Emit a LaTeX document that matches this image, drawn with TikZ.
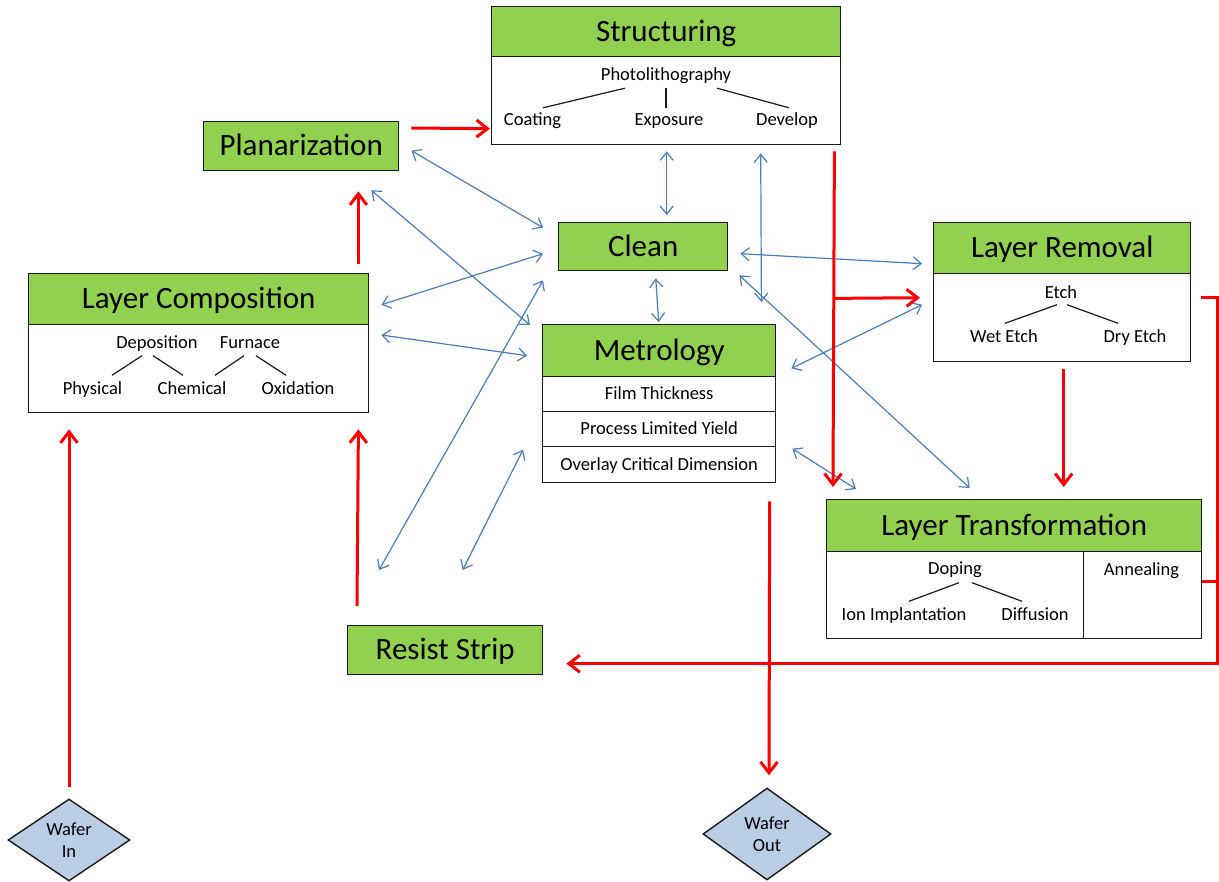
\documentclass[tikz,border=0pt]{standalone}
\usepackage{fontspec}
\setmainfont{Carlito}
\usetikzlibrary{arrows.meta,calc,shapes.geometric}
\definecolor{hdrgreen}{HTML}{92D050}
\definecolor{linkblue}{HTML}{4A7EBB}
\definecolor{flowred}{HTML}{FF0000}
\definecolor{diamondblue}{HTML}{B9CDE5}
\definecolor{edge}{HTML}{1A1A1A}
\newcommand{\titlesize}{\fontsize{31}{37}\selectfont}
\newcommand{\itemsize}{\fontsize{18.5}{22}\selectfont}
\begin{document}
\begin{tikzpicture}[x=1pt,y=-1pt,
  box/.style={draw=edge, line width=1.4pt, inner sep=0pt, anchor=north west},
  header/.style={box, fill=hdrgreen, font=\titlesize, text height=21pt, text depth=2pt},
  panel/.style={box, fill=white},
  row/.style={box, fill=white, font=\itemsize, text height=14pt, text depth=3pt},
  item/.style={inner xsep=0pt, inner ysep=4pt, text height=15pt, text depth=2pt, font=\itemsize},
  branch/.style={draw=edge, line width=1.2pt},
  link/.style={draw=linkblue, line width=1.2pt,
    {Straight Barb[length=8pt,width=13pt]}-{Straight Barb[length=8pt,width=13pt]}},
  flow/.style={draw=flowred, line width=3pt},
  flowarrow/.style={flow, -{Straight Barb[length=11pt,width=17pt]}},
  terminal/.style={diamond, aspect=1.5, draw=edge, line width=1.4pt, fill=diamondblue,
    inner sep=0pt, font=\itemsize, align=center}
]
\useasboundingbox (0,0) rectangle (1219,882);

% ---- Structuring ----
\node[header, minimum width=349pt, minimum height=50pt] (structH) at (491,6) {Structuring};
\node[panel, minimum width=349pt, minimum height=88pt] (structB) at (491,56) {};
\node[item] (photo) at (666,74) {Photolithography};
\node[item] (coat) at (532.5,119) {Coating};
\node[item] (expo) at (669,119) {Exposure};
\node[item] (devel) at (787,119) {Develop};
\draw[branch] ($(photo.south)+(-41,1.5)$) -- ($(coat.north)+(10.5,1.5)$);
\draw[branch] ($(photo.south)+(0,1.5)$) -- ($(expo.north)+(-3,1.5)$);
\draw[branch] ($(photo.south)+(51,1.5)$) -- ($(devel.north)+(2,1.5)$);

% ---- Planarization, Clean, Resist Strip ----
\node[header, minimum width=195pt, minimum height=49pt] (plan) at (203,121) {Planarization};
\node[header, minimum width=169pt, minimum height=48pt] (clean) at (558,222) {Clean};
\node[header, minimum width=195pt, minimum height=49pt] (rs) at (347,625) {Resist Strip};

% ---- Layer Removal ----
\node[header, minimum width=257pt, minimum height=51pt] (lrH) at (933,222) {Layer Removal};
\node[panel, minimum width=257pt, minimum height=88pt] (lrB) at (933,273) {};
\node[item] (etch) at (1061,292) {Etch};
\node[item] (wet) at (1004,336) {Wet Etch};
\node[item] (dry) at (1135,336) {Dry Etch};
\draw[branch] ($(etch.south)+(-4,0)$) -- ($(wet.north)+(1,0)$);
\draw[branch] ($(etch.south)+(6,0)$) -- ($(dry.north)+(-17,0)$);

% ---- Layer Composition ----
\node[header, minimum width=340pt, minimum height=51pt] (lcH) at (28,273) {Layer Composition};
\node[panel, minimum width=340pt, minimum height=88pt] (lcB) at (28,324) {};
\node[item] (depo) at (157,342) {Deposition};
\node[item] (furn) at (250,342) {Furnace};
\node[item] (phys) at (92.5,388) {Physical};
\node[item] (chem) at (192,388) {Chemical};
\node[item] (oxid) at (298,388) {Oxidation};
\draw[branch] ($(depo.south)+(-15,1)$) -- ($(phys.north)+(19.5,0)$);
\draw[branch] ($(depo.south)+(-4,1)$) -- ($(chem.north)+(-9,0)$);
\draw[branch] ($(furn.south)+(-6,1)$) -- ($(chem.north)+(23,0)$);
\draw[branch] ($(furn.south)+(6,1)$) -- ($(oxid.north)+(-12,0)$);

% ---- Metrology ----
\node[header, minimum width=233pt, minimum height=52pt] (metH) at (542,324) {Metrology};
\node[row, minimum width=233pt, minimum height=35pt] (m1) at (542,376) {Film Thickness};
\node[row, minimum width=233pt, minimum height=35pt] (m2) at (542,411) {Process Limited Yield};
\node[row, minimum width=233pt, minimum height=36pt] (m3) at (542,446) {Overlay Critical Dimension};

% ---- Layer Transformation ----
\node[header, minimum width=375pt, minimum height=52pt] (ltH) at (826,499) {Layer Transformation};
\node[panel, minimum width=257pt, minimum height=87pt] (ltB) at (826,551) {};
\node[panel, minimum width=118pt, minimum height=87pt] (ltA) at (1083,551) {};
\node[item] (dop) at (955,568) {Doping};
\node[item] (ion) at (904,614) {Ion Implantation};
\node[item] (diff) at (1035,614) {Diffusion};
\node[item] (anneal) at (1141.5,569) {Annealing};
\draw[branch] ($(dop.south)+(4,2)$) -- ($(ion.north)+(5,0)$);
\draw[branch] ($(dop.south)+(17,2)$) -- ($(diff.north)+(-13,0)$);

% ---- Wafer terminals ----
\node[terminal, minimum width=122pt, minimum height=82pt] (win) at (69,840) {Wafer\\In};
\node[terminal, minimum width=128pt, minimum height=92pt] (wout) at (767,834) {Wafer\\Out};

% ---- Two-way exchanges ----
\draw[link] ($(structB.south)+(0.5,6)$) -- ($(clean.north)+(23.5,-7)$);
\draw[link] ($(structB.south)+(94.5,8)$) -- ($(metH.north east)+(-15,-22)$);
\draw[link] ($(clean.east)+(12,7)$) -- ($(lrH.west)+(-11,15.5)$);
\draw[link] ($(clean.south east)+(11,4)$) -- ($(ltH.north)+(-44.5,-11)$);
\draw[link] ($(metH.south east)+(15,-9)$) -- ($(lrB.west)+(-11,-13)$);
\draw[link] ($(clean.south)+(12.5,7)$) -- ($(metH.north)+(-0.5,-2)$);
\draw[link] ($(m2.east)+(16,19.5)$) -- ($(ltH.north west)+(30,-10)$);
\draw[link] ($(plan.east)+(12,4.5)$) -- ($(clean.west)+(-15,-19)$);
\draw[link] ($(plan.south east)+(-28,19)$) -- ($(metH.north west)+(-12,1)$);
\draw[link] ($(lcH.east)+(12,5.5)$) -- ($(clean.west)+(-15,7)$);
\draw[link] ($(lcB.north east)+(12,11)$) -- ($(metH.west)+(-15,5)$);
\draw[link] ($(rs.north west)+(32,-55)$) -- ($(clean.south west)+(-15,9)$);
\draw[link] ($(rs.north)+(17.5,-55)$) -- ($(m3.west)+(-19,-15)$);

% ---- Process flow ----
\draw[flowarrow] ($(win.north)+(0,-11)$) -- ($(win.north |- lcB.south)+(0,16)$);
\draw[flowarrow] ($(rs.north west)+(10,-19)$) -- ($(lcB.south east)+(-11,16)$);
\draw[flowarrow] ($(lcH.north east)+(-11,-9)$) -- ($(plan.south east)+(-41,20)$);
\draw[flowarrow] ($(plan.north east)+(12,7)$) -- ($(structB.west)+(-1,28)$);
\coordinate (split) at ($(structB.south east)+(-7,153)$);
\draw[flowarrow] ($(structB.south east)+(-7,6)$) -- ($(ltH.north west)+(7,-12)$);
\draw[flowarrow] (split) -- ($(lrB.west)+(-13,-20)$);
\draw[flowarrow] ($(lrB.south)+(1.5,7)$) -- ($(ltH.north)+(49.5,-12)$);
\coordinate (loop) at ($(lrB.east)+(26,-20)$);
\draw[flowarrow] ($(lrB.east)+(10,-20)$) -- (loop) |- ($(rs.east)+(23,13.5)$);
\draw[flow] ($(ltA.east)+(0,-13.5)$) -- ($(ltA.east)+(15,-13.5)$);
\draw[flowarrow] ($(m3.south)+(110.5,18)$) -- ($(wout.north)+(2,-12)$);
\end{tikzpicture}
\end{document}
